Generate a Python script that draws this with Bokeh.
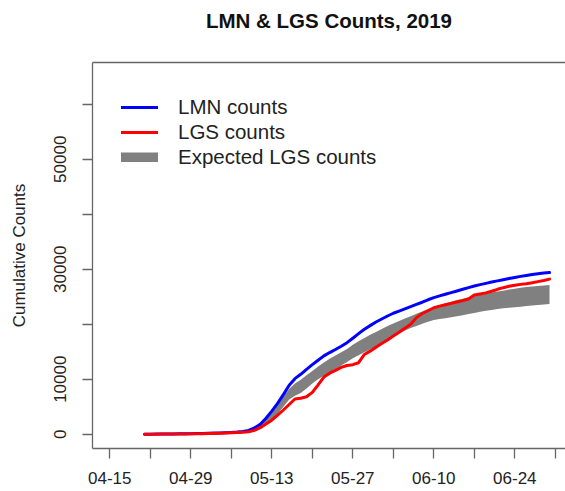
import math
from bokeh.plotting import figure
from bokeh.models import (Range1d, FixedTicker, LinearAxis, Legend, LegendItem,
                          ColumnDataSource)
from bokeh.embed import file_html
from bokeh.resources import INLINE

# ---------------- data ----------------
# x = days after 2019-04-15; series run daily from 04-21 (day 6) to 06-30 (day 76)
days = list(range(6, 77))

lmn_counts = [0, 10, 20, 30, 40, 50, 60, 80, 100, 120, 150, 180, 210, 240, 280, 320, 380, 480,
              700, 1150, 1800, 2900, 4200, 5600, 7200, 8900, 10100, 10900, 11800, 12650, 13450,
              14240, 14850, 15400, 16000, 16650, 17450, 18280, 19090, 19750, 20400, 20950, 21500,
              22000, 22400, 22800, 23200, 23600, 24000, 24450, 24840, 25150, 25450, 25750, 26050,
              26350, 26650, 26960, 27200, 27430, 27670, 27880, 28100, 28300, 28500, 28700, 28880,
              29050, 29180, 29300, 29400]

lgs_counts = [0, 5, 10, 15, 20, 30, 40, 50, 60, 80, 100, 120, 150, 180, 220, 260, 300, 360,
              450, 700, 1200, 1850, 2550, 3450, 4400, 5400, 6400, 6550, 6800, 7600, 8950, 10400,
              11100, 11600, 12150, 12500, 12650, 13000, 14500, 15100, 15800, 16500, 17150, 17850,
              18550, 19250, 20000, 21200, 21950, 22450, 23000, 23300, 23550, 23800, 24050, 24300,
              24600, 25300, 25500, 25700, 26000, 26350, 26650, 26900, 27100, 27250, 27380, 27550,
              27750, 27950, 28200]

expected_upper = [0, 8, 16, 24, 32, 40, 50, 65, 80, 100, 120, 150, 180, 210, 250, 290, 340, 420,
                  550, 1000, 1700, 2700, 3900, 5300, 6800, 8200, 9200, 9900, 10700, 11500, 12300,
                  13050, 13700, 14300, 14900, 15500, 16250, 16900, 17500, 18100, 18600, 19150,
                  19690, 20150, 20600, 21050, 21450, 21900, 22300, 22750, 23100, 23450, 23800,
                  24100, 24400, 24650, 24900, 25150, 25350, 25550, 25750, 25950, 26100, 26300,
                  26450, 26650, 26750, 26850, 26950, 27050, 27150]

expected_lower = [0, 5, 10, 15, 20, 30, 40, 50, 60, 75, 90, 110, 130, 160, 190, 220, 260, 320,
                  400, 800, 1300, 1900, 2600, 3700, 5000, 6300, 7000, 7500, 8300, 9200, 10000,
                  10650, 11250, 11850, 12500, 13150, 13800, 14350, 14900, 15400, 16000, 16650,
                  17250, 17800, 18350, 18850, 19300, 19700, 20100, 20450, 20750, 20950, 21100,
                  21250, 21450, 21650, 21850, 22050, 22250, 22450, 22600, 22750, 22900, 23000,
                  23100, 23200, 23300, 23400, 23500, 23600, 23700]

x_tick_days = [0, 7, 14, 21, 28, 35, 42, 49, 56, 63, 70, 77]
x_tick_labels = ["04-15", "", "04-29", "", "05-13", "", "05-27", "", "06-10", "", "06-24", ""]
y_ticks = [0, 10000, 20000, 30000, 40000, 50000, 60000]
y_tick_labels = ["0", "10000", "", "30000", "", "50000", ""]

assert len(days) == len(lmn_counts) == len(lgs_counts) == len(expected_upper) == len(expected_lower)

src = ColumnDataSource(dict(x=days, lmn=lmn_counts, lgs=lgs_counts,
                            up=expected_upper, lo=expected_lower))

FONT = "Liberation Sans"
AX = "#666666"
TXT = "#222222"

p = figure(width=565, height=491, output_backend="svg", toolbar_location=None,
           x_range=Range1d(-2.99, 78.76), y_range=Range1d(-2600, 67600),
           x_axis_type=None, y_axis_type=None,
           min_border_left=92, min_border_right=0, min_border_top=62, min_border_bottom=43)
p.outline_line_color = None
p.background_fill_color = "white"
p.border_fill_color = "white"

# axes
xaxis = LinearAxis(ticker=FixedTicker(ticks=x_tick_days),
                   major_label_overrides={d: l for d, l in zip(x_tick_days, x_tick_labels)})
yaxis = LinearAxis(ticker=FixedTicker(ticks=y_ticks),
                   major_label_overrides={t: l for t, l in zip(y_ticks, y_tick_labels)},
                   axis_label="Cumulative Counts")
for ax in (xaxis, yaxis):
    ax.axis_line_color = AX
    ax.axis_line_width = 1.3
    ax.major_tick_line_color = AX
    ax.major_tick_line_width = 1.3
    ax.major_tick_out = 10
    ax.major_tick_in = 0
    ax.minor_tick_line_color = None
    ax.major_label_text_font = FONT
    ax.major_label_text_font_size = "17px"
    ax.major_label_text_color = TXT
    ax.axis_label_text_font = FONT
    ax.axis_label_text_font_size = "17px"
    ax.axis_label_text_font_style = "normal"
    ax.axis_label_text_color = TXT
xaxis.major_label_standoff = 13
yaxis.major_label_orientation = "vertical"
yaxis.major_label_standoff = 16
yaxis.axis_label_standoff = 23
p.add_layout(xaxis, "below")
p.add_layout(yaxis, "left")

# top border of the box, carrying the chart title as its label
top = LinearAxis(ticker=FixedTicker(ticks=[]), axis_line_color=AX, axis_line_width=1.3,
                 major_tick_line_color=None, minor_tick_line_color=None,
                 major_tick_out=0, major_tick_in=0, minor_tick_out=0, minor_tick_in=0,
                 major_label_standoff=0, major_label_text_font_size="0px",
                 axis_label="LMN & LGS Counts, 2019", axis_label_standoff=31,
                 axis_label_text_font=FONT, axis_label_text_font_size="20.5px",
                 axis_label_text_font_style="bold", axis_label_text_color="#111111")
p.add_layout(top, "above")

# data
band = p.varea(x="x", y1="lo", y2="up", source=src, fill_color="#808080")
blue = p.line(x="x", y="lmn", source=src, line_color="#0000FF", line_width=3,
              line_cap="round", line_join="round")
red = p.line(x="x", y="lgs", source=src, line_color="#FF0000", line_width=3,
             line_cap="round", line_join="round")
gray_key = p.line(x=[math.nan], y=[math.nan], line_color="#808080", line_width=10,
                  line_cap="round")

legend = Legend(items=[LegendItem(label="LMN counts", renderers=[blue]),
                       LegendItem(label="LGS counts", renderers=[red]),
                       LegendItem(label="Expected LGS counts", renderers=[gray_key])],
                location=(29, 279), glyph_width=37, glyph_height=10, label_height=25,
                spacing=0, label_standoff=20, padding=0, margin=0,
                border_line_color=None, background_fill_alpha=0,
                label_text_font=FONT, label_text_font_size="20.5px", label_text_color=TXT)
p.add_layout(legend)

open("out.html", "w").write(file_html(p, INLINE))
